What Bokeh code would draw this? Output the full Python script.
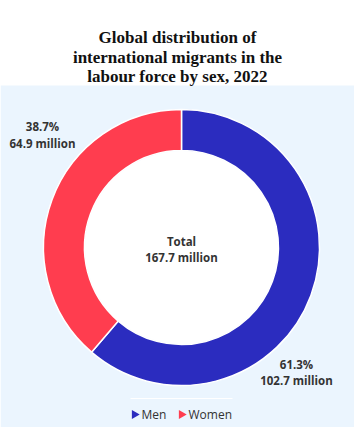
import math
from bokeh.plotting import figure
from bokeh.models import Range1d, ColumnDataSource
from bokeh.core.properties import value
from bokeh.embed import file_html
from bokeh.resources import INLINE

# ---- data ----
categories = ["Men", "Women"]
shares = [61.3, 38.7]            # percent
millions = [102.7, 64.9]         # million
total_millions = 167.7
colors = ["#2B2CBF", "#FF3D4F"]
title_lines = ["Global distribution of", "international migrants in the", "labour force by sex, 2022"]

W, H = 354, 427
p = figure(width=W, height=H, output_backend="svg", toolbar_location=None,
           x_range=Range1d(0, W), y_range=Range1d(0, H), min_border=0,
           background_fill_color="white", border_fill_color="white", outline_line_color=None)
p.axis.visible = False
p.grid.visible = False

def Y(py):
    return H - py

# light panel background
p.quad(left=0, right=W, bottom=0, top=Y(85), fill_color="#EBF5FE", line_color=None)

# title
p.text(x=[W / 2] * 3, y=[Y(37), Y(57), Y(76)], text=title_lines,
       text_font=value("Liberation Serif"), text_font_style="bold", text_font_size="17px",
       text_color="#111111", text_align="center", text_baseline="alphabetic")

# donut
cx, cy = 181, Y(247)
r_out, r_in = 138, 97
starts, ends = [], []
cur = math.pi / 2
for s in shares:
    sweep = s / 100 * 2 * math.pi
    ends.append(cur)
    starts.append(cur - sweep)
    cur -= sweep
src = ColumnDataSource(dict(cat=categories, start=starts, end=ends, color=colors))
p.annular_wedge(x=cx, y=cy, inner_radius=r_in, outer_radius=r_out, start_angle="start",
                end_angle="end", fill_color="color", line_color="white", line_width=1.5, source=src)
p.circle(x=[cx], y=[cy], radius=r_in - 0.5, fill_color="white", line_color=None)

lab_font = value("Open Sans")
def label(x, py1, lines, gap=16):
    p.text(x=[x] * len(lines), y=[Y(py1 + gap * i) for i in range(len(lines))], text=lines,
           text_font=lab_font, text_font_style="bold", text_font_size="11.5px",
           text_color="#333333", text_align="center", text_baseline="middle")

label(181, 241, ["Total", f"{total_millions} million"])
label(42, 126, [f"{shares[1]}%", f"{millions[1]} million"], gap=17)
label(296, 364, [f"{shares[0]}%", f"{millions[0]} million"], gap=16)

# legend
p.line(x=[130, 232], y=[Y(398), Y(398)], line_color="white", line_width=1)
p.scatter(x=[134, 181], y=[Y(414)] * 2, marker="triangle", size=9, angle=-math.pi / 2,
          fill_color=colors, line_color=None)
p.text(x=[141, 188], y=[Y(414)] * 2, text=categories, text_font=lab_font,
       text_font_size="12px", text_color="#333333", text_align="left", text_baseline="middle")

open("out.html", "w").write(file_html(p, INLINE))
